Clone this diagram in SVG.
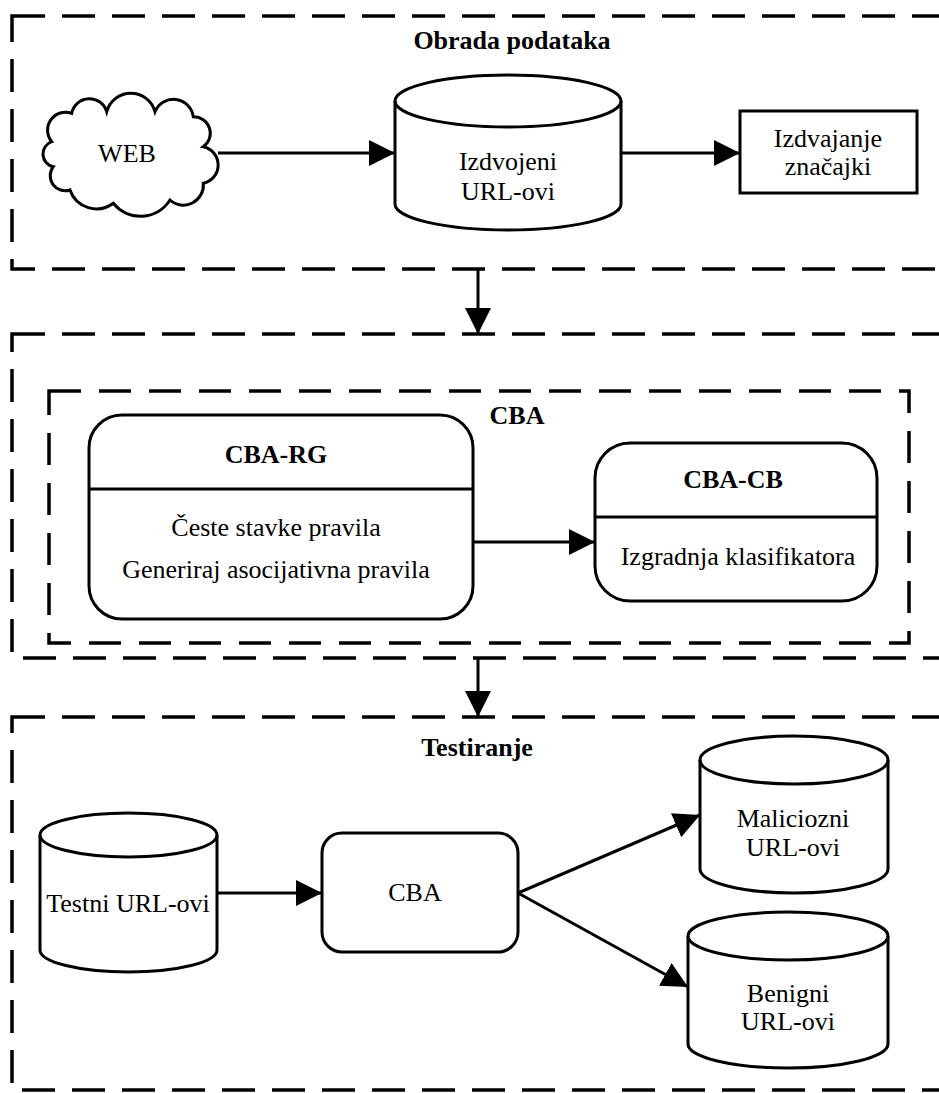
<svg xmlns="http://www.w3.org/2000/svg" width="939" height="1093" viewBox="0 0 939 1093">
<style>
.bg{fill:#fff}
.sec{fill:none;stroke:#000;stroke-width:3.5;stroke-dasharray:33 17}
.inner{fill:none;stroke:#000;stroke-width:3.5;stroke-dasharray:32 18}
.shape{fill:#fff;stroke:#000;stroke-width:3}
.line{fill:none;stroke:#000;stroke-width:3}
.conn{fill:none;stroke:#000;stroke-width:3;marker-end:url(#ah)}
text{font-family:"Liberation Serif","Times New Roman",serif;font-size:26px;fill:#000;text-anchor:middle}
.b{font-weight:bold}
</style>
<defs>
<marker id="ah" markerUnits="userSpaceOnUse" markerWidth="27" markerHeight="27" refX="26" refY="13" orient="auto">
<path d="M0,0 L26,13 L0,26 Z" fill="#000"/>
</marker>
</defs>
<rect class="bg" x="0" y="0" width="939" height="1093"/>

<g id="sections">
<rect id="sec-obrada" class="sec" x="12" y="16" width="960" height="253"/>
<rect id="sec-cba" class="sec" x="12" y="334" width="960" height="324"/>
<rect id="sec-testiranje" class="sec" x="12" y="717" width="960" height="373"/>
<rect id="box-cba" class="inner" x="49" y="391" width="860" height="252"/>
<text class="b" x="512" y="49">Obrada podataka</text>
<text class="b" x="517" y="424">CBA</text>
<text class="b" x="477" y="756">Testiranje</text>
</g>

<g id="connectors">
<line class="conn" x1="218" y1="153" x2="395" y2="153"/>
<line class="conn" x1="621" y1="153" x2="740" y2="153"/>
<line class="conn" x1="478" y1="269" x2="478" y2="334"/>
<line class="conn" x1="473" y1="542" x2="595" y2="542"/>
<line class="conn" x1="478" y1="658" x2="478" y2="717"/>
<line class="conn" x1="217" y1="893" x2="322" y2="893"/>
<line class="conn" x1="518" y1="893" x2="700" y2="815"/>
<line class="conn" x1="518" y1="893" x2="688" y2="987"/>
</g>

<g id="web">
<path class="shape" d="M51.7,141.7 A18,18 0 0 1 71.7,113.3 A18,18 0 0 1 106.7,111.7 A25,25 0 0 1 155,111.7 A20,20 0 0 1 193.3,116.7 A16.5,16.5 0 0 1 203.3,146.7 A18.7,18.7 0 0 1 203.3,183.3 A20,20 0 0 1 170,200 A35,35 0 0 1 113.3,203.3 A28,28 0 0 1 70,190 A15,15 0 0 1 53.3,166.7 A13,13 0 0 1 51.7,141.7 Z"/>
<text x="127" y="162">WEB</text>
</g>

<g id="izdvojeni">
<path class="shape" d="M395,101 A113,26 0 0 1 621,101 L621,204 A113,26 0 0 1 395,204 Z"/>
<path class="line" d="M395,101 A113,26 0 0 0 621,101"/>
<text x="508" y="170">Izdvojeni</text>
<text x="508" y="200">URL-ovi</text>
</g>

<g id="znacajke">
<rect class="shape" x="740" y="111" width="177" height="82"/>
<text x="828" y="147">Izdvajanje</text>
<text x="828" y="175">značajki</text>
</g>

<g id="cba-rg">
<rect class="shape" x="89" y="415" width="384" height="204" rx="33"/>
<line class="line" x1="89" y1="489" x2="473" y2="489"/>
<text class="b" x="276" y="463">CBA-RG</text>
<text x="276" y="536">Česte stavke pravila</text>
<text x="276" y="578">Generiraj asocijativna pravila</text>
</g>

<g id="cba-cb">
<rect class="shape" x="595" y="443" width="282" height="158" rx="35"/>
<line class="line" x1="595" y1="517" x2="877" y2="517"/>
<text class="b" x="733" y="488">CBA-CB</text>
<text x="738" y="565">Izgradnja klasifikatora</text>
</g>

<g id="testni">
<path class="shape" d="M40,835 A88.5,22 0 0 1 217,835 L217,950 A88.5,22 0 0 1 40,950 Z"/>
<path class="line" d="M40,835 A88.5,22 0 0 0 217,835"/>
<text x="128" y="912">Testni URL-ovi</text>
</g>

<g id="cba-test">
<rect class="shape" x="322" y="833" width="196" height="119" rx="20"/>
<text x="415" y="901">CBA</text>
</g>

<g id="maliciozni">
<path class="shape" d="M700,760 A94,24 0 0 1 888,760 L888,869 A94,24 0 0 1 700,869 Z"/>
<path class="line" d="M700,760 A94,24 0 0 0 888,760"/>
<text x="793" y="827">Maliciozni</text>
<text x="793" y="856">URL-ovi</text>
</g>

<g id="benigni">
<path class="shape" d="M688,936 A100,24 0 0 1 888,936 L888,1044 A100,24 0 0 1 688,1044 Z"/>
<path class="line" d="M688,936 A100,24 0 0 0 888,936"/>
<text x="788" y="1002">Benigni</text>
<text x="788" y="1030">URL-ovi</text>
</g>
</svg>
